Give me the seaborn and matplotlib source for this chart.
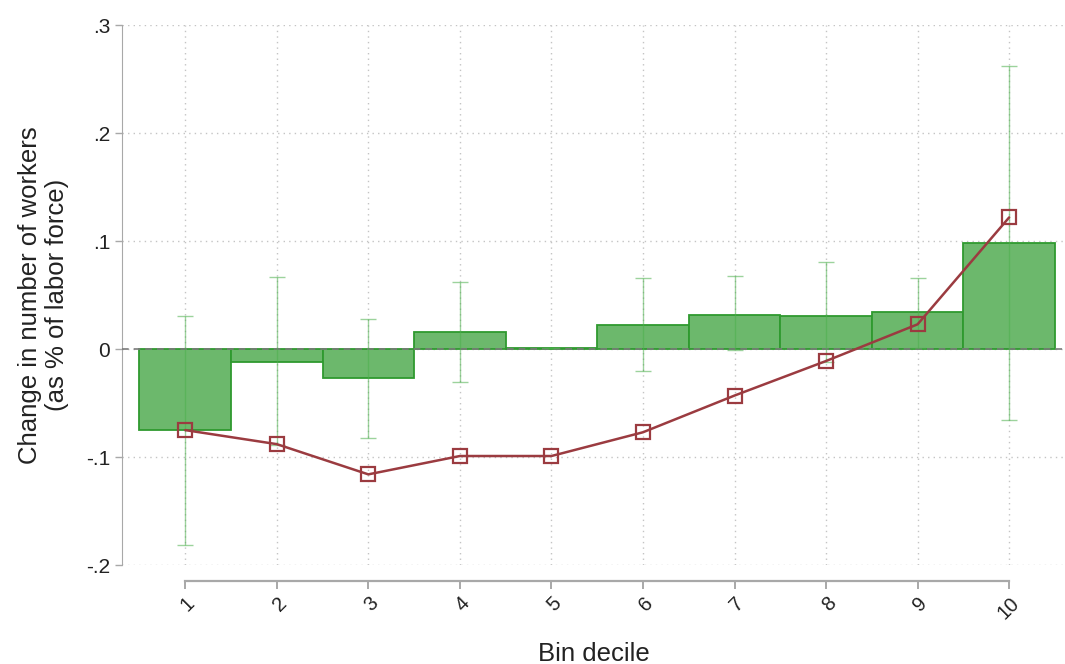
import numpy as np
import pandas as pd
import matplotlib
matplotlib.use("Agg")
import matplotlib.pyplot as plt
import seaborn as sns

# values
decile = [1, 2, 3, 4, 5, 6, 7, 8, 9, 10]
bar_change = [-0.075, -0.012, -0.027, 0.016, 0.001, 0.022, 0.032, 0.031, 0.034, 0.098]
ci_high = [0.031, 0.067, 0.028, 0.062, 0.001, 0.066, 0.068, 0.081, 0.066, 0.262]
ci_low = [-0.181, -0.089, -0.082, -0.030, 0.001, -0.020, -0.001, -0.012, 0.001, -0.066]
line_change = [-0.075, -0.088, -0.116, -0.099, -0.099, -0.077, -0.043, -0.011, 0.023, 0.122]
ytick_vals = [-0.2, -0.1, 0, 0.1, 0.2, 0.3]
ytick_labels = ["-.2", "-.1", "0", ".1", ".2", ".3"]

df = pd.DataFrame({"decile": decile, "bar": bar_change, "lo": ci_low,
                   "hi": ci_high, "line": line_change})

sns.set_style("white")
plt.rcParams["font.family"] = ["Liberation Sans", "DejaVu Sans"]

fig = plt.figure(figsize=(10.65, 6.64), dpi=100)
ax = fig.add_axes([0.1146, 0.149, 0.8854, 0.813])

grid_kw = dict(color="#c4c4c4", linestyle=(0, (1, 3)), linewidth=1.0, zorder=0)
for y in ytick_vals:
    ax.axhline(y, **grid_kw)
for x in decile:
    ax.axvline(x, **grid_kw)

sns.barplot(data=df, x="decile", y="bar", native_scale=True, width=1,
            color="#6cb86c", edgecolor="#2f9a2f", linewidth=1.3,
            saturation=1, errorbar=None, ax=ax, zorder=2)

ax.axhline(0, color="#7a7a7a", linestyle=(0, (4, 3)), linewidth=1.2, zorder=3)

yerr = np.array([df["bar"] - df["lo"], df["hi"] - df["bar"]])
ax.errorbar(df["decile"], df["bar"], yerr=yerr, fmt="none",
            ecolor="#4caf4c", elinewidth=1.0, capsize=6, capthick=1.0,
            alpha=0.55, zorder=4)

sns.lineplot(data=df, x="decile", y="line", color="#9b3b40", linewidth=1.8,
             marker="s", markersize=10, markerfacecolor="none",
             markeredgecolor="#9b3b40", markeredgewidth=1.6, ax=ax, zorder=5)

ax.set_xlim(0.31, 10.61)
ax.set_ylim(-0.2, 0.3)

# spine layout first: moving a spine resets the tick labels
for side in ["top", "right"]:
    ax.spines[side].set_visible(False)
ax.spines["left"].set_color("#a8a8a8")
ax.spines["left"].set_bounds(-0.2, 0.3)
ax.spines["bottom"].set_color("#a8a8a8")
ax.spines["bottom"].set_linewidth(1.6)
ax.spines["bottom"].set_position(("outward", 11.5))
ax.spines["bottom"].set_bounds(1, 10)

ax.set_yticks(ytick_vals)
ax.set_yticklabels(ytick_labels, fontsize=15)
ax.set_xticks(decile)
ax.set_xticklabels([str(d) for d in decile], fontsize=14.5, rotation=45,
                   ha="right", rotation_mode="anchor")
ax.tick_params(axis="both", direction="out", length=5, width=1,
               color="#a8a8a8", labelcolor="#222222", bottom=True, left=True)
ax.tick_params(axis="x", length=6, width=1.4, pad=3)

ax.set_xlabel("Bin decile", fontsize=18.5, color="#222222", labelpad=14)
ax.set_ylabel("Change in number of workers\n(as % of labor force)",
              fontsize=18.5, color="#222222", labelpad=12, linespacing=1.15)

fig.savefig("out.png", dpi=100)
